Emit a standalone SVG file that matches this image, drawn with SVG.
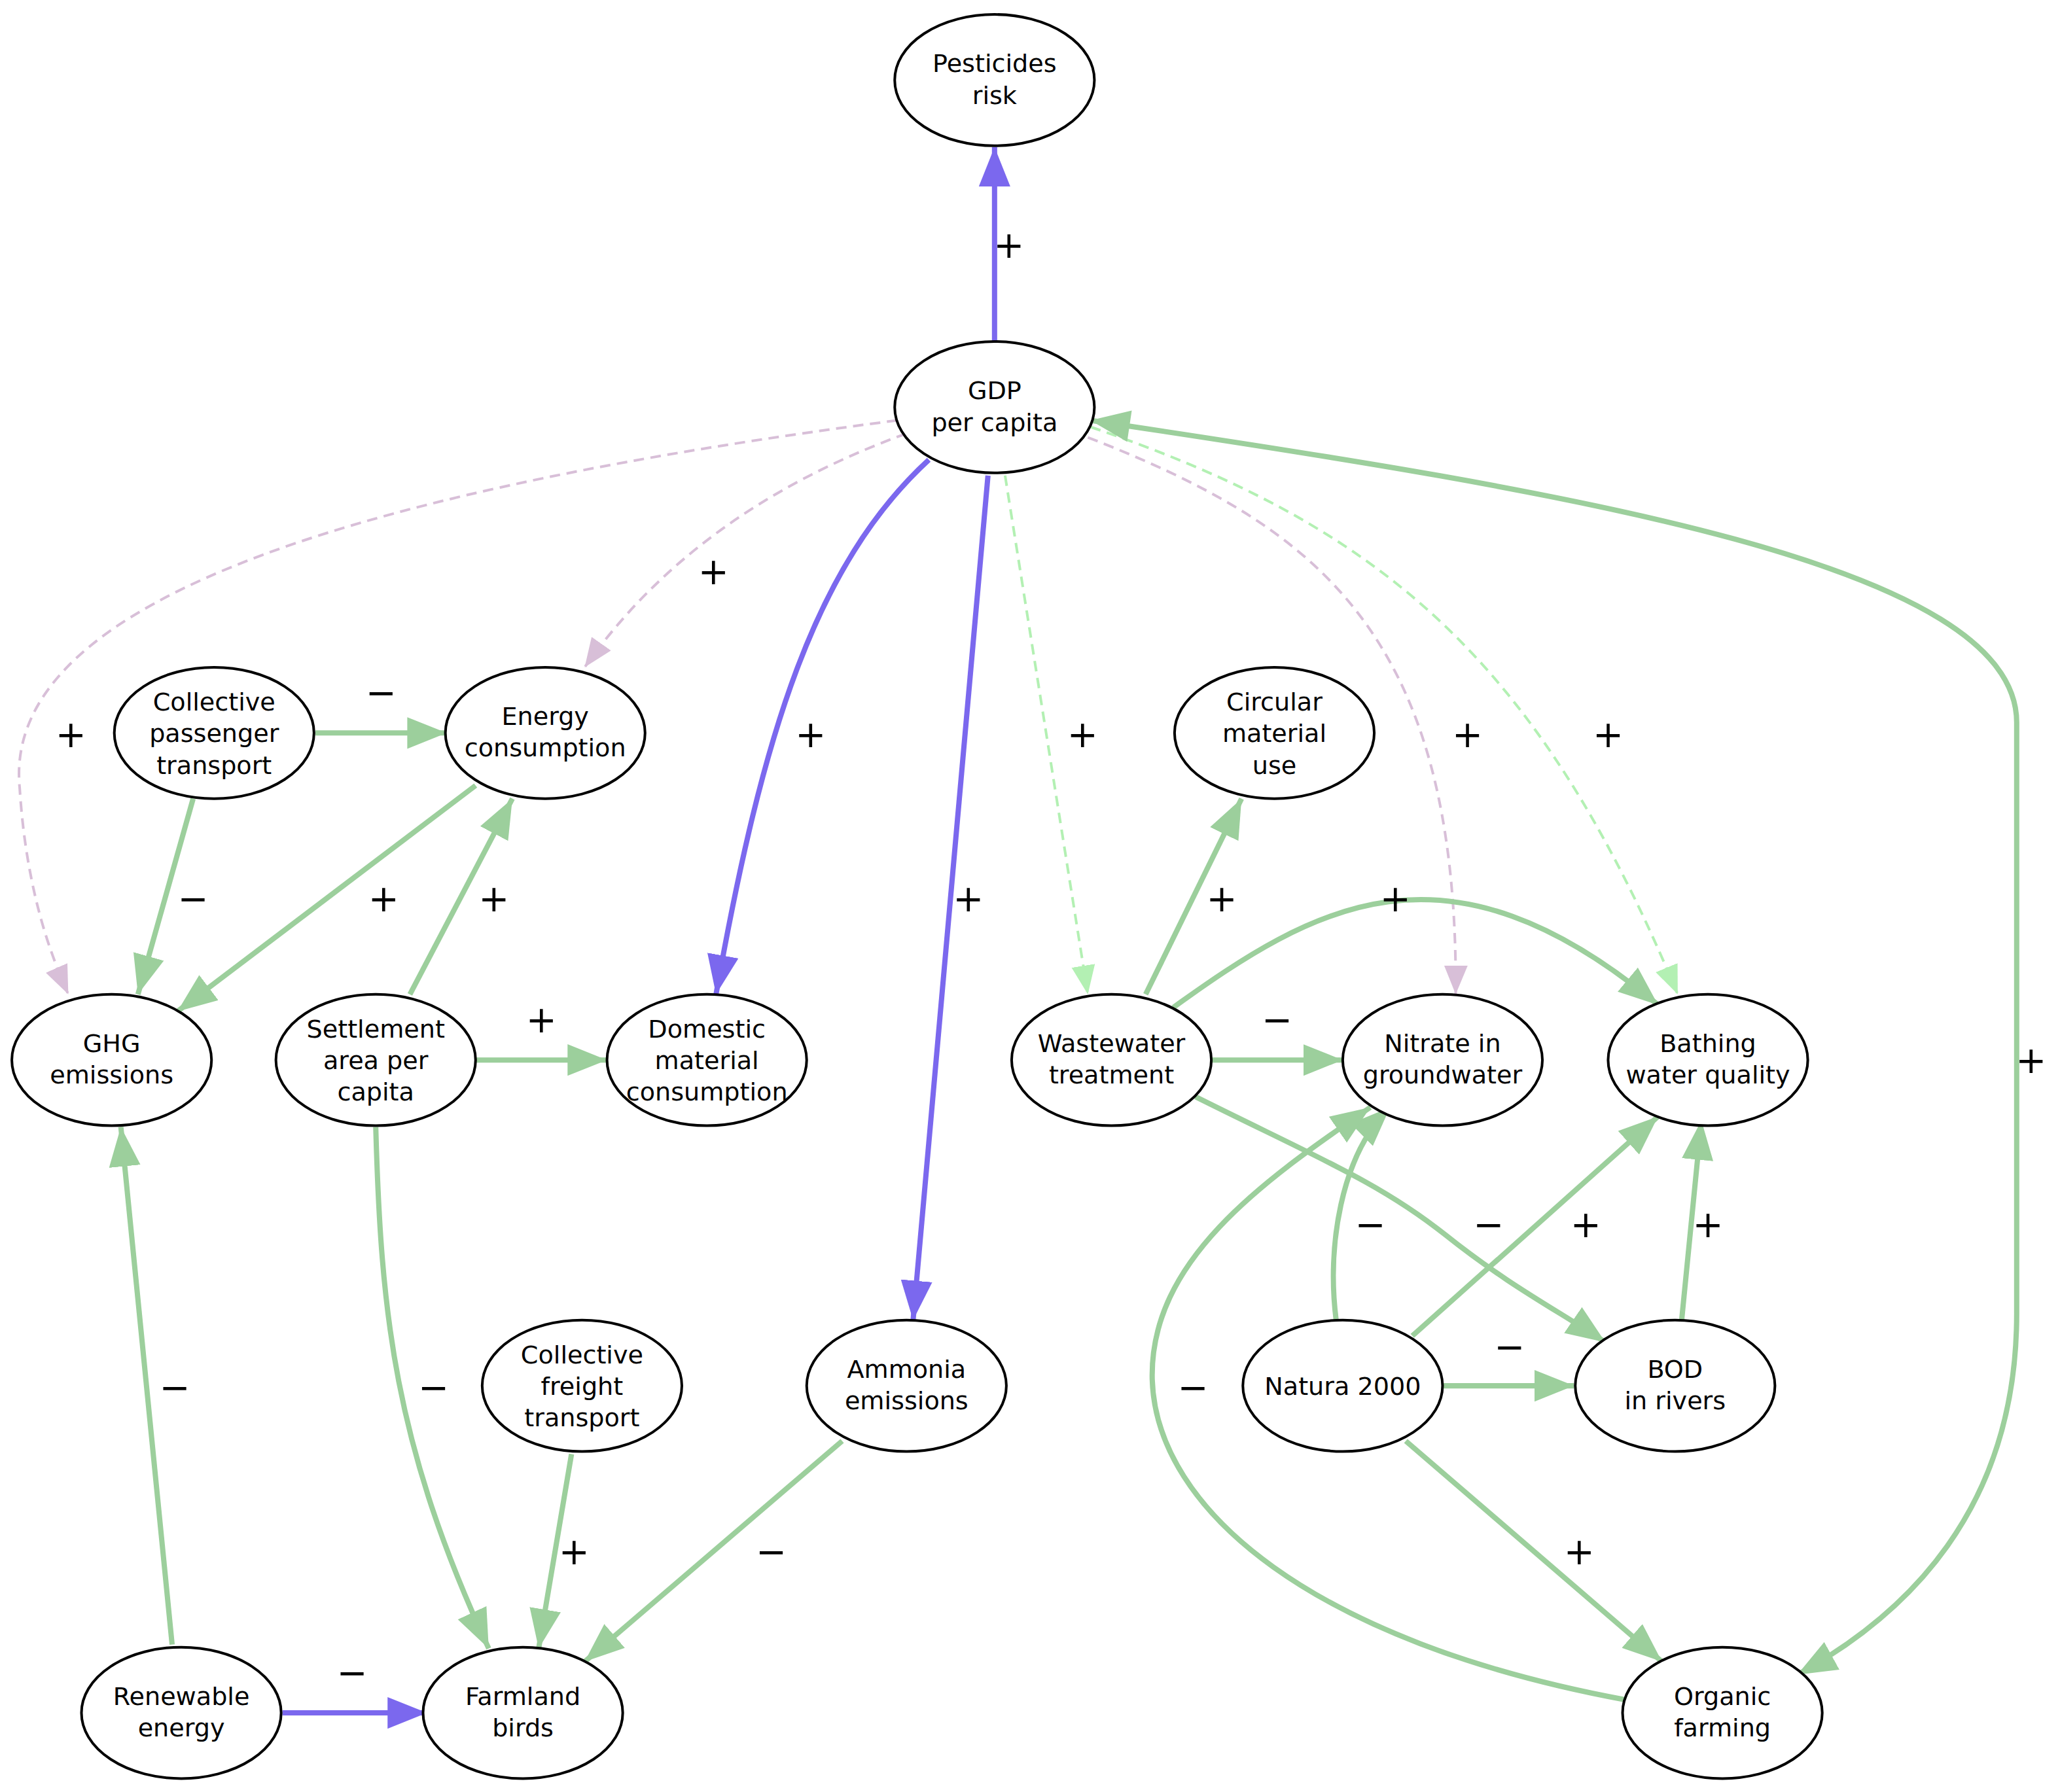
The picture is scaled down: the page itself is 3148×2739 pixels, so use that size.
<svg xmlns="http://www.w3.org/2000/svg" width="3148" height="2739" viewBox="0 0 3148 2739">
<style>
.n ellipse{fill:#fff;stroke:#000;stroke-width:2}
.n text{font-family:"DejaVu Sans","Liberation Sans",sans-serif;font-size:19px;text-anchor:middle}
.g{fill:none;stroke:#9ccf9c;stroke-width:4}
.p{fill:none;stroke:#7b68ee;stroke-width:4}
.dp{fill:none;stroke:#d8bfd8;stroke-width:2;stroke-dasharray:8,5}
.dg{fill:none;stroke:#b3f0b3;stroke-width:2;stroke-dasharray:8,5}
.l{font-family:"DejaVu Sans","Liberation Sans",sans-serif;font-size:28px;text-anchor:middle}
</style>
<defs>
<marker id="ag" markerUnits="userSpaceOnUse" markerWidth="32" markerHeight="26" refX="30" refY="12" orient="auto"><path d="M0,0L30,12L0,24z" fill="#9ccf9c"/></marker>
<marker id="ap" markerUnits="userSpaceOnUse" markerWidth="32" markerHeight="26" refX="30" refY="12" orient="auto"><path d="M0,0L30,12L0,24z" fill="#7b68ee"/></marker>
<marker id="asg" markerUnits="userSpaceOnUse" markerWidth="32" markerHeight="26" refX="0" refY="12" orient="auto"><path d="M30,0L0,12L30,24z" fill="#9ccf9c"/></marker>
<marker id="adp" markerUnits="userSpaceOnUse" markerWidth="24" markerHeight="20" refX="22" refY="9" orient="auto"><path d="M0,0L22,9L0,18z" fill="#d8bfd8"/></marker>
<marker id="adg" markerUnits="userSpaceOnUse" markerWidth="24" markerHeight="20" refX="22" refY="9" orient="auto"><path d="M0,0L22,9L0,18z" fill="#b3f0b3"/></marker>
</defs>
<rect width="3148" height="2739" fill="#fff"/>
<g transform="scale(2.0077)">
<g id="connectors">
<path class="p" marker-end="url(#ap)" d="M757,260L757,112"/>
<path class="dp" marker-end="url(#adp)" d="M683,320C300,370 0,450 15,600C20,680 40,730 52,757"/>
<path class="dp" marker-end="url(#adp)" d="M690,330C580,370 500,430 445,508"/>
<path class="p" marker-end="url(#ap)" d="M707,350C620,430 580,560 545,757"/>
<path class="p" marker-end="url(#ap)" d="M752,362L695,1005"/>
<path class="dg" marker-end="url(#adg)" d="M765,362L828,757"/>
<path class="dp" marker-end="url(#adp)" d="M828,333C1000,400 1110,480 1108,757"/>
<path class="dg" marker-end="url(#adg)" d="M830,325C1050,400 1170,500 1277,757"/>
<path class="g" marker-start="url(#asg)" marker-end="url(#ag)" d="M830,320C1200,375 1535,430 1535,550L1535,1000C1535,1150 1450,1230 1368,1275"/>
<path class="g" marker-end="url(#ag)" d="M240,558L340,558"/>
<path class="g" marker-end="url(#ag)" d="M147,608L105,757"/>
<path class="g" marker-end="url(#ag)" d="M362,598L135,770"/>
<path class="g" marker-end="url(#ag)" d="M312,757L390,608"/>
<path class="g" marker-end="url(#ag)" d="M362,807L462,807"/>
<path class="g" marker-end="url(#ag)" d="M286,858C290,1000 300,1100 372,1255"/>
<path class="g" marker-end="url(#ag)" d="M872,757L945,608"/>
<path class="g" marker-end="url(#ag)" d="M922,807L1022,807"/>
<path class="g" marker-end="url(#ag)" d="M893,767C1000,690 1100,630 1262,765"/>
<path class="g" marker-end="url(#ag)" d="M910,835C1000,880 1050,900 1100,940C1150,980 1190,1000 1222,1022"/>
<path class="g" marker-end="url(#ag)" d="M1017,1005C1010,950 1020,880 1058,843"/>
<path class="g" marker-end="url(#ag)" d="M1075,1017L1262,850"/>
<path class="g" marker-end="url(#ag)" d="M1280,1005L1295,853"/>
<path class="g" marker-end="url(#ag)" d="M1098,1055L1198,1055"/>
<path class="g" marker-end="url(#ag)" d="M1070,1097L1265,1265"/>
<path class="g" marker-end="url(#ag)" d="M1237,1294C1000,1250 880,1150 877,1050C875,960 960,900 1043,843"/>
<path class="g" marker-end="url(#ag)" d="M435,1107L410,1255"/>
<path class="g" marker-end="url(#ag)" d="M641,1097L445,1265"/>
<path class="g" marker-end="url(#ag)" d="M131,1252L92,858"/>
<path class="p" marker-end="url(#ap)" d="M215,1304L325,1304"/>
<g class="l">
<text x="768" y="196">+</text><text x="54" y="569">+</text><text x="543" y="445">+</text>
<text x="617" y="569">+</text><text x="737" y="694">+</text><text x="824" y="569">+</text>
<text x="1117" y="569">+</text><text x="1224" y="569">+</text><text x="1546" y="817">+</text>
<text x="290" y="537">−</text><text x="147" y="694">−</text><text x="292" y="694">+</text>
<text x="376" y="694">+</text><text x="412" y="786">+</text><text x="330" y="1066">−</text>
<text x="930" y="694">+</text><text x="972" y="786">−</text><text x="1062" y="694">+</text>
<text x="1133" y="942">−</text><text x="1043" y="942">−</text><text x="1207" y="942">+</text>
<text x="1300" y="942">+</text><text x="1149" y="1035">−</text><text x="1202" y="1191">+</text>
<text x="908" y="1066">−</text><text x="437" y="1191">+</text><text x="587" y="1191">−</text>
<text x="133" y="1066">−</text><text x="268" y="1283">−</text>
</g>
</g>
<g id="n_pest" class="n"><ellipse cx="757" cy="61" rx="76" ry="50"/><text x="757" y="55">Pesticides</text><text x="757" y="79">risk</text></g>
<g id="n_gdp" class="n"><ellipse cx="757" cy="310" rx="76" ry="50"/><text x="757" y="304">GDP</text><text x="757" y="328">per capita</text></g>
<g id="n_cpt" class="n"><ellipse cx="163" cy="558" rx="76" ry="50"/><text x="163" y="541">Collective</text><text x="163" y="565">passenger</text><text x="163" y="589">transport</text></g>
<g id="n_energy" class="n"><ellipse cx="415" cy="558" rx="76" ry="50"/><text x="415" y="552">Energy</text><text x="415" y="576">consumption</text></g>
<g id="n_circ" class="n"><ellipse cx="970" cy="558" rx="76" ry="50"/><text x="970" y="541">Circular</text><text x="970" y="565">material</text><text x="970" y="589">use</text></g>
<g id="n_ghg" class="n"><ellipse cx="85" cy="807" rx="76" ry="50"/><text x="85" y="801">GHG</text><text x="85" y="825">emissions</text></g>
<g id="n_settle" class="n"><ellipse cx="286" cy="807" rx="76" ry="50"/><text x="286" y="790">Settlement</text><text x="286" y="814">area per</text><text x="286" y="838">capita</text></g>
<g id="n_dmc" class="n"><ellipse cx="538" cy="807" rx="76" ry="50"/><text x="538" y="790">Domestic</text><text x="538" y="814">material</text><text x="538" y="838">consumption</text></g>
<g id="n_ww" class="n"><ellipse cx="846" cy="807" rx="76" ry="50"/><text x="846" y="801">Wastewater</text><text x="846" y="825">treatment</text></g>
<g id="n_nit" class="n"><ellipse cx="1098" cy="807" rx="76" ry="50"/><text x="1098" y="801">Nitrate in</text><text x="1098" y="825">groundwater</text></g>
<g id="n_bath" class="n"><ellipse cx="1300" cy="807" rx="76" ry="50"/><text x="1300" y="801">Bathing</text><text x="1300" y="825">water quality</text></g>
<g id="n_cft" class="n"><ellipse cx="443" cy="1055" rx="76" ry="50"/><text x="443" y="1038">Collective</text><text x="443" y="1062">freight</text><text x="443" y="1086">transport</text></g>
<g id="n_amm" class="n"><ellipse cx="690" cy="1055" rx="76" ry="50"/><text x="690" y="1049">Ammonia</text><text x="690" y="1073">emissions</text></g>
<g id="n_nat" class="n"><ellipse cx="1022" cy="1055" rx="76" ry="50"/><text x="1022" y="1062">Natura 2000</text></g>
<g id="n_bod" class="n"><ellipse cx="1275" cy="1055" rx="76" ry="50"/><text x="1275" y="1049">BOD</text><text x="1275" y="1073">in rivers</text></g>
<g id="n_ren" class="n"><ellipse cx="138" cy="1304" rx="76" ry="50"/><text x="138" y="1298">Renewable</text><text x="138" y="1322">energy</text></g>
<g id="n_farm" class="n"><ellipse cx="398" cy="1304" rx="76" ry="50"/><text x="398" y="1298">Farmland</text><text x="398" y="1322">birds</text></g>
<g id="n_org" class="n"><ellipse cx="1311" cy="1304" rx="76" ry="50"/><text x="1311" y="1298">Organic</text><text x="1311" y="1322">farming</text></g>
</g>
</svg>
